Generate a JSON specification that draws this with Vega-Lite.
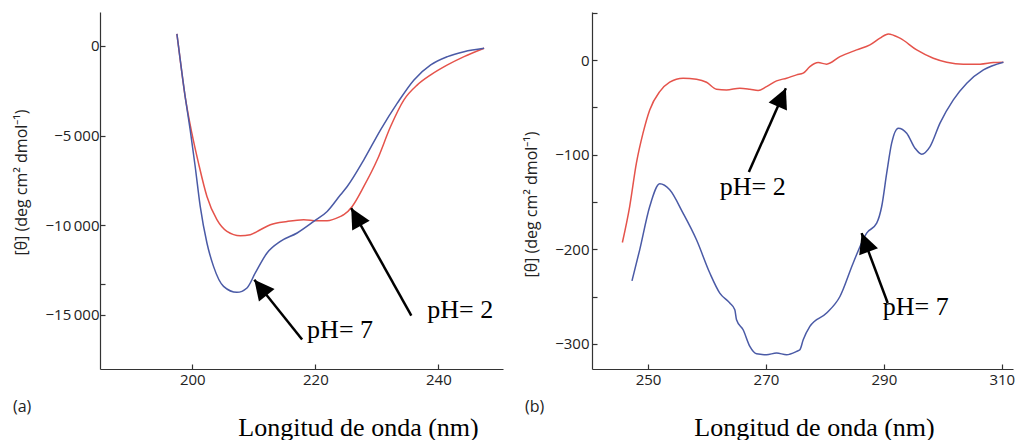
{
  "$schema": "https://vega.github.io/schema/vega-lite/v6.json",
  "padding": {"left": 13, "top": 12, "right": 0, "bottom": 0},
  "background": "white",
  "spacing": 20,
  "config": {
    "view": {"stroke": null},
    "axis": {
      "grid": false,
      "domainColor": "#333333",
      "domainWidth": 1.2,
      "tickColor": "#333333",
      "tickWidth": 1.2,
      "tickSize": -5,
      "labelFont": "Open Sans",
      "labelFontSize": 15,
      "labelColor": "#222222",
      "titleFontWeight": "normal"
    }
  },
  "datasets": {
    "a": [
      {"pH": "pH 2", "wl": 197.5, "theta": 670},
      {"pH": "pH 2", "wl": 197.75, "theta": 0},
      {"pH": "pH 2", "wl": 198.84, "theta": -2826},
      {"pH": "pH 2", "wl": 199.93, "theta": -4866},
      {"pH": "pH 2", "wl": 201.01, "theta": -6539},
      {"pH": "pH 2", "wl": 202.38, "theta": -8400},
      {"pH": "pH 2", "wl": 204.0, "theta": -9699},
      {"pH": "pH 2", "wl": 205.63, "theta": -10351},
      {"pH": "pH 2", "wl": 207.8, "theta": -10591},
      {"pH": "pH 2", "wl": 209.43, "theta": -10535},
      {"pH": "pH 2", "wl": 211.06, "theta": -10256},
      {"pH": "pH 2", "wl": 212.69, "theta": -9978},
      {"pH": "pH 2", "wl": 215.41, "theta": -9794},
      {"pH": "pH 2", "wl": 218.11, "theta": -9699},
      {"pH": "pH 2", "wl": 220.29, "theta": -9755},
      {"pH": "pH 2", "wl": 221.92, "theta": -9755},
      {"pH": "pH 2", "wl": 224.09, "theta": -9515},
      {"pH": "pH 2", "wl": 224.63, "theta": -9420},
      {"pH": "pH 2", "wl": 225.99, "theta": -8957},
      {"pH": "pH 2", "wl": 227.88, "theta": -7843},
      {"pH": "pH 2", "wl": 230.06, "theta": -6355},
      {"pH": "pH 2", "wl": 232.23, "theta": -4498},
      {"pH": "pH 2", "wl": 234.4, "theta": -3010},
      {"pH": "pH 2", "wl": 236.58, "theta": -2174},
      {"pH": "pH 2", "wl": 238.75, "theta": -1617},
      {"pH": "pH 2", "wl": 241.47, "theta": -1059},
      {"pH": "pH 2", "wl": 244.17, "theta": -597},
      {"pH": "pH 2", "wl": 247.43, "theta": -128},
      {"pH": "pH 7", "wl": 197.5, "theta": 670},
      {"pH": "pH 7", "wl": 197.75, "theta": 0},
      {"pH": "pH 7", "wl": 198.84, "theta": -2826},
      {"pH": "pH 7", "wl": 199.66, "theta": -4682},
      {"pH": "pH 7", "wl": 200.47, "theta": -6728},
      {"pH": "pH 7", "wl": 201.29, "theta": -8957},
      {"pH": "pH 7", "wl": 202.38, "theta": -10998},
      {"pH": "pH 7", "wl": 203.45, "theta": -12302},
      {"pH": "pH 7", "wl": 205.08, "theta": -13417},
      {"pH": "pH 7", "wl": 207.26, "theta": -13751},
      {"pH": "pH 7", "wl": 208.89, "theta": -13506},
      {"pH": "pH 7", "wl": 210.24, "theta": -12670},
      {"pH": "pH 7", "wl": 212.15, "theta": -11555},
      {"pH": "pH 7", "wl": 214.32, "theta": -10908},
      {"pH": "pH 7", "wl": 217.04, "theta": -10440},
      {"pH": "pH 7", "wl": 219.74, "theta": -9794},
      {"pH": "pH 7", "wl": 221.92, "theta": -9236},
      {"pH": "pH 7", "wl": 224.09, "theta": -8305},
      {"pH": "pH 7", "wl": 225.18, "theta": -7843},
      {"pH": "pH 7", "wl": 227.88, "theta": -6355},
      {"pH": "pH 7", "wl": 230.6, "theta": -4682},
      {"pH": "pH 7", "wl": 233.32, "theta": -3194},
      {"pH": "pH 7", "wl": 236.03, "theta": -1895},
      {"pH": "pH 7", "wl": 238.75, "theta": -1059},
      {"pH": "pH 7", "wl": 241.47, "theta": -597},
      {"pH": "pH 7", "wl": 244.17, "theta": -318},
      {"pH": "pH 7", "wl": 247.43, "theta": -128}
    ],
    "b": [
      {"pH": "pH 2", "wl": 245.65, "theta": -192.9},
      {"pH": "pH 2", "wl": 246.89, "theta": -154.8},
      {"pH": "pH 2", "wl": 248.03, "theta": -108.9},
      {"pH": "pH 2", "wl": 249.15, "theta": -77.2},
      {"pH": "pH 2", "wl": 250.29, "theta": -52.6},
      {"pH": "pH 2", "wl": 251.99, "theta": -33.2},
      {"pH": "pH 2", "wl": 253.68, "theta": -23.3},
      {"pH": "pH 2", "wl": 255.94, "theta": -19.0},
      {"pH": "pH 2", "wl": 258.22, "theta": -20.1},
      {"pH": "pH 2", "wl": 259.92, "theta": -23.3},
      {"pH": "pH 2", "wl": 261.61, "theta": -30.7},
      {"pH": "pH 2", "wl": 263.31, "theta": -31.4},
      {"pH": "pH 2", "wl": 265.57, "theta": -29.6},
      {"pH": "pH 2", "wl": 267.27, "theta": -30.7},
      {"pH": "pH 2", "wl": 268.68, "theta": -32.1},
      {"pH": "pH 2", "wl": 270.1, "theta": -27.9},
      {"pH": "pH 2", "wl": 271.8, "theta": -21.9},
      {"pH": "pH 2", "wl": 273.5, "theta": -19.0},
      {"pH": "pH 2", "wl": 275.2, "theta": -15.5},
      {"pH": "pH 2", "wl": 276.32, "theta": -13.7},
      {"pH": "pH 2", "wl": 277.45, "theta": -6.8},
      {"pH": "pH 2", "wl": 278.86, "theta": -2.5},
      {"pH": "pH 2", "wl": 280.29, "theta": -4.2},
      {"pH": "pH 2", "wl": 282.55, "theta": 3.8},
      {"pH": "pH 2", "wl": 285.38, "theta": 10.9},
      {"pH": "pH 2", "wl": 287.64, "theta": 16.2},
      {"pH": "pH 2", "wl": 289.34, "theta": 23.3},
      {"pH": "pH 2", "wl": 290.75, "theta": 27.8},
      {"pH": "pH 2", "wl": 292.73, "theta": 23.3},
      {"pH": "pH 2", "wl": 295.57, "theta": 10.9},
      {"pH": "pH 2", "wl": 298.39, "theta": 2.1},
      {"pH": "pH 2", "wl": 300.66, "theta": -2.1},
      {"pH": "pH 2", "wl": 303.48, "theta": -4.2},
      {"pH": "pH 2", "wl": 306.32, "theta": -4.2},
      {"pH": "pH 2", "wl": 308.57, "theta": -2.5},
      {"pH": "pH 2", "wl": 310.27, "theta": -2.1},
      {"pH": "pH 7", "wl": 247.28, "theta": -233.4},
      {"pH": "pH 7", "wl": 248.59, "theta": -200.6},
      {"pH": "pH 7", "wl": 250.29, "theta": -154.8},
      {"pH": "pH 7", "wl": 251.99, "theta": -130.8},
      {"pH": "pH 7", "wl": 253.68, "theta": -137.1},
      {"pH": "pH 7", "wl": 255.94, "theta": -161.8},
      {"pH": "pH 7", "wl": 258.22, "theta": -190.0},
      {"pH": "pH 7", "wl": 260.48, "theta": -225.2},
      {"pH": "pH 7", "wl": 262.17, "theta": -246.4},
      {"pH": "pH 7", "wl": 263.87, "theta": -256.9},
      {"pH": "pH 7", "wl": 264.72, "theta": -264.0},
      {"pH": "pH 7", "wl": 265.01, "theta": -274.6},
      {"pH": "pH 7", "wl": 266.13, "theta": -285.2},
      {"pH": "pH 7", "wl": 267.27, "theta": -302.8},
      {"pH": "pH 7", "wl": 268.41, "theta": -310.6},
      {"pH": "pH 7", "wl": 270.1, "theta": -311.6},
      {"pH": "pH 7", "wl": 271.8, "theta": -309.8},
      {"pH": "pH 7", "wl": 273.5, "theta": -311.6},
      {"pH": "pH 7", "wl": 275.2, "theta": -308.1},
      {"pH": "pH 7", "wl": 275.76, "theta": -306.3},
      {"pH": "pH 7", "wl": 276.32, "theta": -295.8},
      {"pH": "pH 7", "wl": 277.45, "theta": -281.7},
      {"pH": "pH 7", "wl": 280.29, "theta": -267.5},
      {"pH": "pH 7", "wl": 282.55, "theta": -250.0},
      {"pH": "pH 7", "wl": 284.8, "theta": -214.5},
      {"pH": "pH 7", "wl": 287.08, "theta": -182.9},
      {"pH": "pH 7", "wl": 288.78, "theta": -172.4},
      {"pH": "pH 7", "wl": 289.63, "theta": -154.8},
      {"pH": "pH 7", "wl": 290.48, "theta": -119.5},
      {"pH": "pH 7", "wl": 291.32, "theta": -87.8},
      {"pH": "pH 7", "wl": 292.44, "theta": -71.9},
      {"pH": "pH 7", "wl": 293.87, "theta": -77.2},
      {"pH": "pH 7", "wl": 295.28, "theta": -93.1},
      {"pH": "pH 7", "wl": 296.42, "theta": -99.4},
      {"pH": "pH 7", "wl": 297.83, "theta": -91.4},
      {"pH": "pH 7", "wl": 299.52, "theta": -66.6},
      {"pH": "pH 7", "wl": 301.78, "theta": -42.0},
      {"pH": "pH 7", "wl": 304.06, "theta": -24.3},
      {"pH": "pH 7", "wl": 306.88, "theta": -10.3},
      {"pH": "pH 7", "wl": 310.27, "theta": -2.1}
    ],
    "notes_a": [
      {"label": "pH= 7", "wl": 217.85, "theta": -16388, "wl2": 210.08, "theta2": -13044, "angle": 321.5, "twl": 218.66, "ttheta": -16276},
      {"label": "pH= 2", "wl": 235.6, "theta": -15050, "wl2": 225.83, "theta2": -9047, "angle": 330.9, "twl": 238.2, "ttheta": -15161}
    ],
    "notes_b": [
      {"label": "pH= 2", "wl": 267.1, "theta": -118.4, "wl2": 273.38, "theta2": -29.6, "angle": 23.8, "twl": 262.17, "ttheta": -142.4},
      {"label": "pH= 7", "wl": 290.65, "theta": -256.9, "wl2": 286.23, "theta2": -182.9, "angle": 339.6, "twl": 289.8, "ttheta": -269.3}
    ]
  },
  "hconcat": [
    {
      "width": 403,
      "height": 357,
      "title": {"text": "(a)", "orient": "bottom", "anchor": "start", "frame": "group", "offset": 0, "dx": -87, "dy": -41, "font": "Open Sans", "fontSize": 16, "fontWeight": "normal", "color": "#222222"},
      "layer": [
        {
          "data": {"name": "a"},
          "mark": {"type": "line", "strokeWidth": 1.5, "interpolate": "monotone"},
          "encoding": {
            "x": {"field": "wl", "type": "quantitative", "scale": {"domain": [185, 250.5], "nice": false, "zero": false},
              "axis": {"values": [200, 220, 240], "title": "Longitud de onda (nm)", "titleFont": "Liberation Serif", "titleFontSize": 26, "titleColor": "#000000", "titleX": 258, "titleY": 66, "titleAlign": "center", "titleBaseline": "alphabetic", "labelPadding": 8}},
            "y": {"field": "theta", "type": "quantitative", "scale": {"domain": [-18030, 1895], "nice": false, "zero": false},
              "axis": {"values": [0, -5000, -10000, -13300, -15000], "labelExpr": "datum.value == -13300 ? '' : replace(format(datum.value, ','), ',', '\u2009')", "labelPadding": 6, "title": "[θ] (deg cm² dmol⁻¹)", "titleFont": "Open Sans", "titleFontSize": 16, "titleColor": "#222222", "titleX": -79, "titleY": 170, "titleAngle": -90, "titleAlign": "center", "titleBaseline": "middle"}},
            "color": {"field": "pH", "type": "nominal", "scale": {"domain": ["pH 2", "pH 7"], "range": ["#e5534b", "#4a5aa6"]}, "legend": null}
          }
        },
        {
          "mark": {"type": "rule", "color": "#000000", "strokeWidth": 1.2},
          "encoding": {"y": {"datum": 0, "type": "quantitative", "scale": {"domain": [-18030, 1895], "nice": false, "zero": false}}}
        },
        {
          "data": {"name": "notes_a"},
          "mark": {"type": "rule", "color": "#000000", "strokeWidth": 2.5},
          "encoding": {
            "x": {"field": "wl", "type": "quantitative", "scale": {"domain": [185, 250.5], "nice": false, "zero": false}},
            "y": {"field": "theta", "type": "quantitative", "scale": {"domain": [-18030, 1895], "nice": false, "zero": false}},
            "x2": {"field": "wl2"},
            "y2": {"field": "theta2"}
          }
        },
        {
          "data": {"name": "notes_a"},
          "mark": {"type": "point", "shape": "M0,0L-0.5,1L0.5,1Z", "filled": true, "color": "#000000", "opacity": 1, "size": 1600, "strokeWidth": 0},
          "encoding": {
            "x": {"field": "wl2", "type": "quantitative", "scale": {"domain": [185, 250.5], "nice": false, "zero": false}},
            "y": {"field": "theta2", "type": "quantitative", "scale": {"domain": [-18030, 1895], "nice": false, "zero": false}},
            "angle": {"field": "angle", "type": "quantitative", "scale": null}
          }
        },
        {
          "data": {"name": "notes_a"},
          "mark": {"type": "text", "font": "Liberation Serif", "fontSize": 26, "color": "#000000", "align": "left", "baseline": "alphabetic"},
          "encoding": {
            "x": {"field": "twl", "type": "quantitative", "scale": {"domain": [185, 250.5], "nice": false, "zero": false}},
            "y": {"field": "ttheta", "type": "quantitative", "scale": {"domain": [-18030, 1895], "nice": false, "zero": false}},
            "text": {"field": "label"}
          }
        }
      ]
    },
    {
      "width": 421,
      "height": 357,
      "title": {"text": "(b)", "orient": "bottom", "anchor": "start", "frame": "group", "offset": 0, "dx": -67, "dy": -41, "font": "Open Sans", "fontSize": 16, "fontWeight": "normal", "color": "#222222"},
      "layer": [
        {
          "data": {"name": "b"},
          "mark": {"type": "line", "strokeWidth": 1.5, "interpolate": "monotone"},
          "encoding": {
            "x": {"field": "wl", "type": "quantitative", "scale": {"domain": [240.5, 311.9], "nice": false, "zero": false},
              "axis": {"values": [250, 270, 290, 310], "title": "Longitud de onda (nm)", "titleFont": "Liberation Serif", "titleFontSize": 26, "titleColor": "#000000", "titleX": 222, "titleY": 66, "titleAlign": "center", "titleBaseline": "alphabetic", "labelPadding": 8}},
            "y": {"field": "theta", "type": "quantitative", "scale": {"domain": [-326.7, 51], "nice": false, "zero": false},
              "axis": {"values": [-300, -250, -200, -150, -100, -50, 0, 50], "labelExpr": "datum.value % 100 == 0 ? format(datum.value, 'd') : ''", "labelPadding": 8, "title": "[θ] (deg cm² dmol⁻¹)", "titleFont": "Open Sans", "titleFontSize": 16, "titleColor": "#222222", "titleX": -61, "titleY": 192, "titleAngle": -90, "titleAlign": "center", "titleBaseline": "middle"}},
            "color": {"field": "pH", "type": "nominal", "scale": {"domain": ["pH 2", "pH 7"], "range": ["#e5534b", "#4a5aa6"]}, "legend": null}
          }
        },
        {
          "mark": {"type": "rule", "color": "#000000", "strokeWidth": 1.2},
          "encoding": {
            "x": {"datum": 240.5, "type": "quantitative", "scale": {"domain": [240.5, 311.9], "nice": false, "zero": false}},
            "x2": {"datum": 310},
            "y": {"datum": 0, "type": "quantitative", "scale": {"domain": [-326.7, 51], "nice": false, "zero": false}}
          }
        },
        {
          "data": {"name": "notes_b"},
          "mark": {"type": "rule", "color": "#000000", "strokeWidth": 2.5},
          "encoding": {
            "x": {"field": "wl", "type": "quantitative", "scale": {"domain": [240.5, 311.9], "nice": false, "zero": false}},
            "y": {"field": "theta", "type": "quantitative", "scale": {"domain": [-326.7, 51], "nice": false, "zero": false}},
            "x2": {"field": "wl2"},
            "y2": {"field": "theta2"}
          }
        },
        {
          "data": {"name": "notes_b"},
          "mark": {"type": "point", "shape": "M0,0L-0.5,1L0.5,1Z", "filled": true, "color": "#000000", "opacity": 1, "size": 1600, "strokeWidth": 0},
          "encoding": {
            "x": {"field": "wl2", "type": "quantitative", "scale": {"domain": [240.5, 311.9], "nice": false, "zero": false}},
            "y": {"field": "theta2", "type": "quantitative", "scale": {"domain": [-326.7, 51], "nice": false, "zero": false}},
            "angle": {"field": "angle", "type": "quantitative", "scale": null}
          }
        },
        {
          "data": {"name": "notes_b"},
          "mark": {"type": "text", "font": "Liberation Serif", "fontSize": 26, "color": "#000000", "align": "left", "baseline": "alphabetic"},
          "encoding": {
            "x": {"field": "twl", "type": "quantitative", "scale": {"domain": [240.5, 311.9], "nice": false, "zero": false}},
            "y": {"field": "ttheta", "type": "quantitative", "scale": {"domain": [-326.7, 51], "nice": false, "zero": false}},
            "text": {"field": "label"}
          }
        }
      ]
    }
  ]
}
